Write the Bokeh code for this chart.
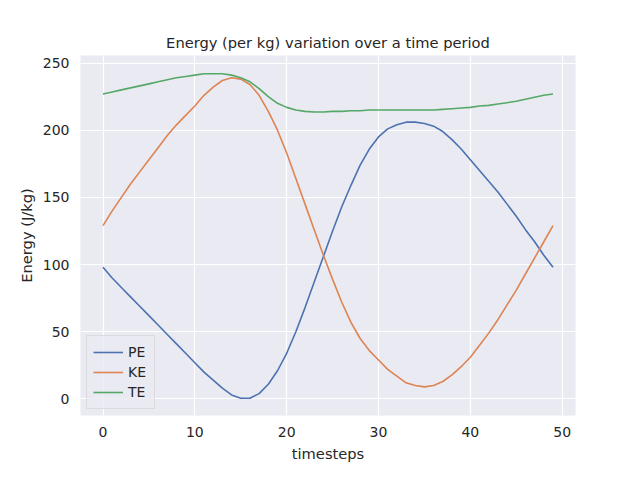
from bokeh.plotting import figure
from bokeh.models import Range1d, FixedTicker, Legend
from bokeh.embed import file_html
from bokeh.resources import INLINE

timesteps = list(range(50))
pe = [98, 90, 83, 76, 69, 62, 55, 48, 41, 34, 27, 20, 14, 8, 3, 0.5, 0.5, 4, 11, 21,
      34, 50, 68, 87, 106, 125, 143, 159, 174, 186, 195, 201, 204, 206, 206, 205, 203, 199, 193, 186,
      178, 170, 162, 154, 145, 136, 126, 117, 107, 98]
ke = [129, 140, 150, 160, 169, 178, 187, 196, 204, 211, 218, 226, 232, 237, 239, 238, 234, 226, 214, 200,
      183, 164, 145, 126, 107, 89, 72, 57, 45, 36, 29, 22, 17, 12, 10, 9, 10, 13, 18, 24,
      31, 40, 49, 59, 70, 81, 93, 105, 117, 129]
te = [227, 228.5, 230, 231.5, 233, 234.5, 236, 237.5, 239, 240, 241, 242, 242, 242, 241, 239, 236, 231, 225, 220,
      217, 215, 214, 213.5, 213.5, 214, 214, 214.5, 214.5, 215, 215, 215, 215, 215, 215, 215, 215, 215.5, 216, 216.5,
      217, 218, 218.5, 219.5, 220.5, 221.5, 223, 224.5, 226, 227]
series = [("PE", pe, "#4C72B0"), ("KE", ke, "#DD8452"), ("TE", te, "#55A868")]

p = figure(width=624, height=464, output_backend="svg", toolbar_location=None,
           x_range=Range1d(-2.45, 51.45), y_range=Range1d(-12.3, 255.6),
           title="Energy (per kg) variation over a time period",
           min_border_left=80, min_border_right=49, min_border_top=55, min_border_bottom=32)
p.background_fill_color = "#EAEAF2"
p.outline_line_color = None
p.title.align = "center"
p.title.text_font = "DejaVu Sans"
p.title.text_font_size = "11pt"
p.title.text_font_style = "normal"
p.title.text_color = "#262626"

for ax in (p.xaxis, p.yaxis):
    ax.axis_line_color = None
    ax.major_tick_line_color = None
    ax.minor_tick_line_color = None
    ax.major_label_text_font = "DejaVu Sans"
    ax.major_label_text_font_size = "10.5pt"
    ax.major_label_text_color = "#262626"
    ax.axis_label_text_font = "DejaVu Sans"
    ax.axis_label_text_font_size = "11pt"
    ax.axis_label_text_font_style = "normal"
    ax.axis_label_text_color = "#262626"
p.xaxis.ticker = FixedTicker(ticks=[0, 10, 20, 30, 40, 50])
p.yaxis.ticker = FixedTicker(ticks=[0, 50, 100, 150, 200, 250])
p.xaxis.axis_label = "timesteps"
p.yaxis.axis_label = "Energy (J/kg)"
p.grid.grid_line_color = "white"
p.grid.grid_line_width = 1.2

items = []
for name, vals, col in series:
    r = p.line(timesteps, vals, line_color=col, line_width=1.6)
    items.append((name, [r]))

legend = Legend(items=items, location="bottom_left")
legend.background_fill_color = "#EAEAF2"
legend.background_fill_alpha = 0.8
legend.border_line_color = "#cccccc"
legend.label_text_font = "DejaVu Sans"
legend.label_text_font_size = "10.5pt"
legend.label_text_color = "#262626"
legend.glyph_width = 30
legend.spacing = 0
legend.padding = 6
legend.margin = 6
p.add_layout(legend)

open("out.html", "w").write(file_html(p, INLINE))
